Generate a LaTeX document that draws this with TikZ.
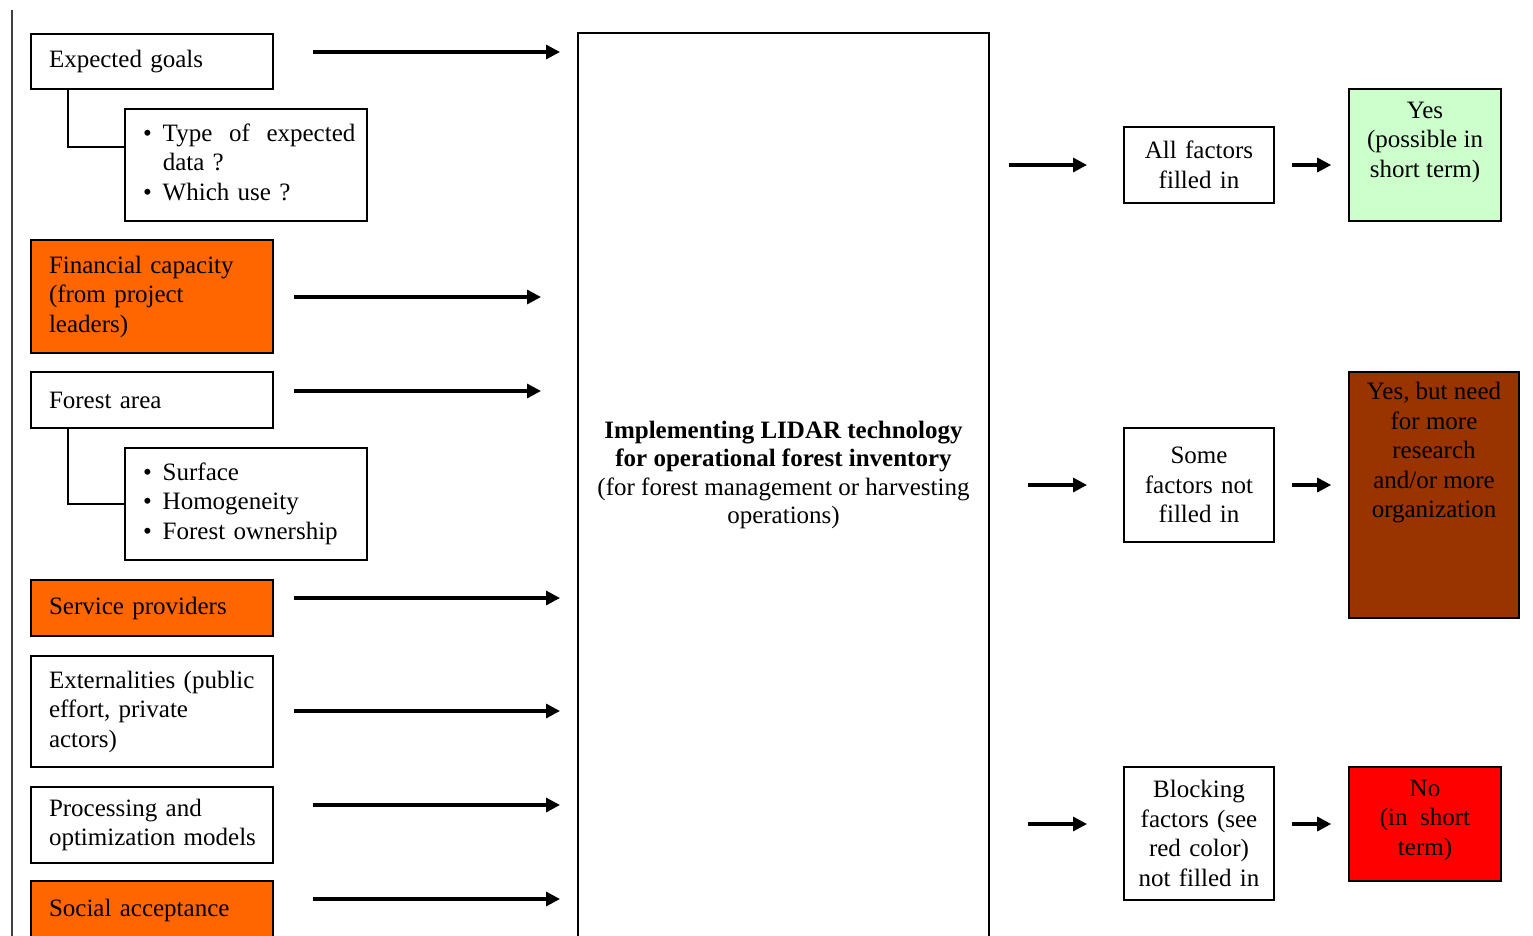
\documentclass[tikz,border=0pt]{standalone}
\usepackage{fontspec}
\setmainfont{Liberation Serif}
\usetikzlibrary{arrows.meta,calc}
\definecolor{orng}{HTML}{FF6600}
\definecolor{grn}{HTML}{CCFFCC}
\definecolor{brn}{HTML}{993300}
\definecolor{rd}{HTML}{FF0000}
\newcommand\fsz{\fontsize{25}{29.5}\selectfont\hyphenpenalty=10000 }
\begin{document}
\begin{tikzpicture}[x=1pt,y=-1pt,
  box/.style={draw=black, line width=1.6pt, inner sep=0pt, font=\fsz},
  lbox/.style={box, minimum width=242pt, text width=212pt, align=left},
  rbox/.style={box, text width=150pt, align=center},
  txt/.style={font=\fsz, align=center, inner sep=0pt},
  arr/.style={line width=3.2pt, -{Triangle[length=14pt,width=14pt]}},
  conn/.style={line width=1.6pt}]
\useasboundingbox (0,0) rectangle (1533,936);
\clip (0,0) rectangle (1533,936);
\fill[white] (0,0) rectangle (1533,936);
% left frame line
\draw[line width=2pt, black!75] (12,10) -- (12,940);
% left column
\node[lbox, minimum height=55pt] (eg) at (152,61.5) {\hspace*{3pt}Expected goals};
\node[lbox, minimum height=112pt] (sub1) at (246,165) {\hspace*{3pt}\begin{tabular}{@{}l@{\hspace{11pt}}l@{}}\textbullet & Type \ of \ expected\\ & data ?\\ \textbullet & Which use ?\end{tabular}};
\node[lbox, fill=orng, minimum height=113pt] (fin) at (152,296.5) {\hspace*{3pt}Financial capacity\\\hspace*{3pt}(from project\\\hspace*{3pt}leaders)};
\node[lbox, minimum height=56pt] (fa) at (152,400) {\hspace*{3pt}Forest area};
\node[lbox, minimum height=112pt] (sub2) at (246,504) {\hspace*{3pt}\begin{tabular}{@{}l@{\hspace{11pt}}l@{}}\textbullet & Surface\\ \textbullet & Homogeneity\\ \textbullet & Forest ownership\end{tabular}};
\node[lbox, fill=orng, minimum height=56pt] (sp) at (152,608) {\hspace*{3pt}Service providers};
\node[lbox, minimum height=111pt] (ext) at (152,711.5) {\hspace*{3pt}Externalities (public\\\hspace*{3pt}effort, private\\\hspace*{3pt}actors)};
\node[lbox, minimum height=76pt] (proc) at (152,825) {\hspace*{3pt}Processing and\\\hspace*{3pt}optimization models};
\node[lbox, fill=orng, minimum height=58pt] (soc) at (152,910) {\hspace*{3pt}Social acceptance};
% connectors to sub boxes
\draw[conn] ([xshift=38pt]eg.south west) |- ([yshift=18pt]sub1.west);
\draw[conn] ([xshift=38pt]fa.south west) |- (sub2.west);
% central box
\node[box, minimum width=411pt, minimum height=930pt] (main) at (783.5,498) {};
\node[txt, font=\fontsize{25}{28.4}\selectfont] (maintxt) at (783.5,475) {\textbf{Implementing LIDAR technology}\\\textbf{for operational forest inventory}\\(for forest management or harvesting\\operations)};
% left arrows
\coordinate (a1s) at (313,52);  \coordinate (a1e) at (560,52);
\coordinate (a2s) at (294,297); \coordinate (a2e) at (541,297);
\coordinate (a3s) at (294,391); \coordinate (a3e) at (541,391);
\coordinate (a4s) at (294,598); \coordinate (a4e) at (560,598);
\coordinate (a5s) at (294,711); \coordinate (a5e) at (560,711);
\coordinate (a6s) at (313,805); \coordinate (a6e) at (560,805);
\coordinate (a7s) at (313,899); \coordinate (a7e) at (560,899);
\foreach \i in {1,...,7} {\draw[arr] (a\i s) -- (a\i e);}
% right column
\node[rbox, minimum height=76pt] (af) at (1199,165) {All factors\\filled in};
\node[rbox, minimum height=114pt] (sf) at (1199,485) {Some\\factors not\\filled in};
\node[rbox, minimum height=133pt] (bf) at (1199,833.5) {Blocking\\factors (see\\red color)\\not filled in};
\node[box, fill=grn, minimum width=152pt, minimum height=132pt] (yes) at (1425,155) {};
\node[txt] (yestxt) at (1425,142) {Yes\\(possible in\\short term)};
\node[box, fill=brn, minimum width=170pt, minimum height=246pt] (br) at (1434,495) {};
\node[txt, text=black] (brtxt) at (1434,453) {Yes, but need\\for more\\research\\and/or more\\organization};
\node[box, fill=rd, minimum width=152pt, minimum height=114pt] (red) at (1425,824) {};
\node[txt, text=black] (redtxt) at (1425,820) {No\\(in \ short\\term)};
% right arrows
\coordinate (r1s) at (1009,165); \coordinate (r1e) at (1087,165);
\coordinate (r2s) at (1028,485); \coordinate (r2e) at (1087,485);
\coordinate (r3s) at (1028,824); \coordinate (r3e) at (1087,824);
\draw[arr] (r1s) -- (r1e);
\draw[arr] (r2s) -- (r2e);
\draw[arr] (r3s) -- (r3e);
\draw[arr, shorten <=17pt, shorten >=17pt] (af.east) -- (af.east -| yes.west);
\draw[arr, shorten <=17pt, shorten >=17pt] (sf.east) -- (sf.east -| br.west);
\draw[arr, shorten <=17pt, shorten >=17pt] (red.west -| bf.east) -- (red.west);
\end{tikzpicture}
\end{document}
